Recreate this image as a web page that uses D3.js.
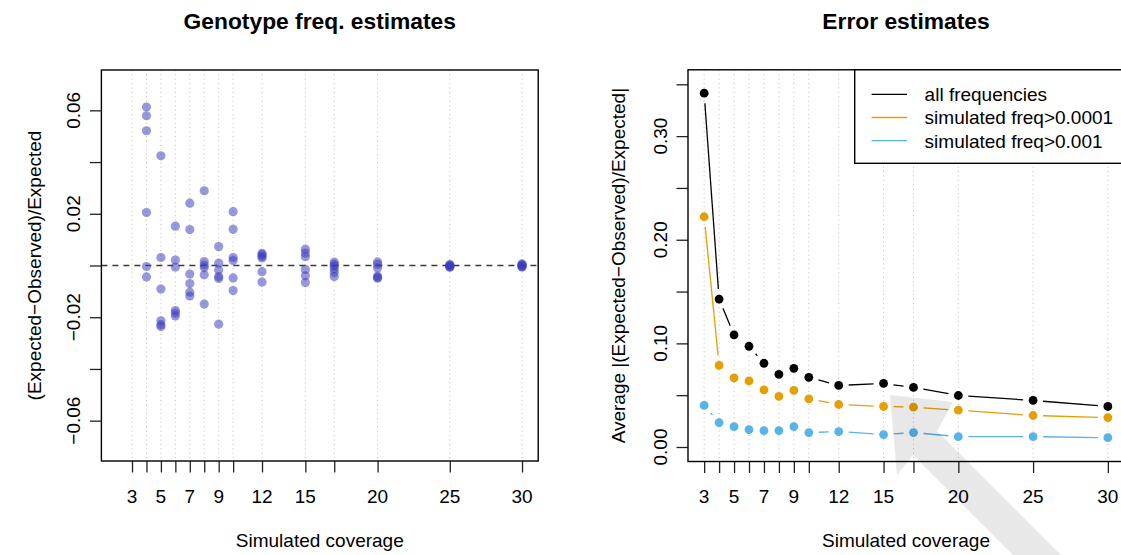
<!DOCTYPE html>
<html><head><meta charset="utf-8">
<script src="https://cdn.jsdelivr.net/npm/d3@7"></script>
<style>
html,body{margin:0;padding:0;background:#fff;}
svg{display:block;font-family:"Liberation Sans",Arial,Helvetica,sans-serif;}
</style></head>
<body>
<svg id="chart" width="1121" height="555"></svg>
<script>
// ---------- DATA ----------
const coverages = [3,4,5,6,7,8,9,10,12,15,17,20,25,30];
const xTickLabels = [3,5,7,9,12,15,20,25,30];

// Left panel: (Expected-Observed)/Expected per simulated coverage
const genoCoverage = [4,5,6,7,8,9,10,12,15,17,20,25,30];
const genoValues = [
  [0.0613,0.0579,0.0521,0.0205,-0.0004,-0.0044],          // 4
  [0.0424,0.0031,-0.0091,-0.0214,-0.0229,-0.0236],        // 5
  [0.0152,0.0021,-0.0006,-0.0174,-0.0184,-0.0195],        // 6
  [0.0241,0.0139,-0.0033,-0.0070,-0.0103,-0.0118],        // 7
  [0.0289,0.0015,0.0002,-0.0008,-0.0036,-0.0149],         // 8
  [0.0073,0.0009,-0.0017,-0.0043,-0.0050,-0.0227],        // 9
  [0.0208,0.0140,0.0031,0.0019,-0.0048,-0.0097],          // 10
  [0.0047,0.0042,0.0035,0.0029,-0.0024,-0.0064],          // 12
  [0.0063,0.0048,0.0034,-0.0015,-0.0040,-0.0066],         // 15
  [0.0013,0.0004,-0.0002,-0.0014,-0.0027,-0.0043],        // 17
  [0.0014,0.0004,-0.0010,-0.0041,-0.0046,-0.0049],        // 20
  [0.0004,0.0001,-0.0001,-0.0003,-0.0005,-0.0007],        // 25
  [0.0006,0.0003,0.0001,-0.0002,-0.0004,-0.0006]          // 30
];
const leftYTicks = [-0.06,-0.04,-0.02,0,0.02,0.04,0.06];
const leftYLabels = [-0.06,-0.02,0.02,0.06];

// Right panel: Average |(Expected-Observed)/Expected|
const errAll     = [0.3414,0.1427,0.1082,0.0972,0.0808,0.0701,0.0759,0.0672,0.0594,0.0613,0.0575,0.0497,0.0449,0.0391];
const errF0001   = [0.2222,0.0788,0.0666,0.0637,0.0552,0.0488,0.0546,0.0465,0.0410,0.0391,0.0384,0.0355,0.0304,0.0284];
const errF001    = [0.0401,0.0236,0.0197,0.0168,0.0158,0.0158,0.0197,0.0139,0.0149,0.0120,0.0139,0.0100,0.0100,0.0090];
const seriesNames = ["all frequencies","simulated freq>0.0001","simulated freq>0.001"];
const seriesColors = ["#000000","#E69F00","#56B4E9"];
const rightYTicks = [0,0.05,0.10,0.15,0.20,0.25,0.30,0.35];
const rightYLabels = [0,0.10,0.20,0.30];

// ---------- LAYOUT ----------
const svg = d3.select("#chart");
const FS = 19;
const minus = s => s.replace("-", "\u2212");

const L = {x0:101.4, x1:538.2, y0:70, y1:461, yt:60};
const R = {x0:688, x1:1124, y0:69.8, y1:461.5, yt:63};

const xL = d3.scaleLinear().domain([0.88,31.12]).range([L.x0,L.x1]);
const yL = d3.scaleLinear().domain([-0.0756,0.0756]).range([L.y1,L.y0]);
const xR = d3.scaleLinear().domain([1.92,31.08]).range([R.x0,R.x1]);
const yR = d3.scaleLinear().domain([-0.014,0.364]).range([R.y1,R.y0]);

function panelFrame(P, xs, ys, yTicks, yLabels, yFmt, title, ytitle) {
  const g = svg.append("g");
  g.selectAll(".grid").data(coverages).enter().append("line")
    .attr("x1", d=>xs(d)).attr("x2", d=>xs(d))
    .attr("y1", P.y0).attr("y2", P.y1)
    .attr("stroke","#bdbdbd").attr("stroke-width",1).attr("stroke-dasharray","1,3.4");
  const xa = g.append("g").attr("transform",`translate(0,${P.y1})`)
    .call(d3.axisBottom(xs).tickValues(coverages).tickSize(11.5).tickFormat(""));
  xa.select(".domain").remove();
  xa.selectAll("line").attr("stroke","#222").attr("stroke-width",1.3);
  g.selectAll(".xl").data(xTickLabels).enter().append("text")
    .attr("x", d=>xs(d)).attr("y", 503).attr("text-anchor","middle")
    .attr("font-size",FS).attr("fill","#000").text(d=>d);
  const ya = g.append("g").attr("transform",`translate(${P.x0},0)`)
    .call(d3.axisLeft(ys).tickValues(yTicks).tickSize(11.5).tickFormat(""));
  ya.select(".domain").remove();
  ya.selectAll("line").attr("stroke","#222").attr("stroke-width",1.3);
  g.selectAll(".yl").data(yLabels).enter().append("text")
    .attr("transform", d=>`translate(${P.x0-21},${ys(d)}) rotate(-90)`)
    .attr("text-anchor","middle").attr("font-size",FS).attr("fill","#000")
    .text(d=>minus(yFmt(d)));
  g.append("text").attr("x",(P.x0+P.x1)/2).attr("y",29).attr("text-anchor","middle")
    .attr("font-size",22.8).attr("font-weight","bold").text(title);
  g.append("text").attr("x",(P.x0+P.x1)/2).attr("y",547).attr("text-anchor","middle")
    .attr("font-size",FS).text("Simulated coverage");
  g.append("text").attr("transform",`translate(${P.x0-P.yt},${(P.y0+P.y1)/2}) rotate(-90)`)
    .attr("text-anchor","middle").attr("font-size",FS).text(ytitle);
  return g;
}

// ---------- LEFT PANEL ----------
panelFrame(L, xL, yL, leftYTicks, leftYLabels, d3.format(".2f"),
  "Genotype freq. estimates", "(Expected\u2212Observed)/Expected");

const gl = svg.append("g");
gl.append("line").attr("x1",L.x0).attr("x2",L.x1).attr("y1",yL(0)).attr("y2",yL(0))
  .attr("stroke","#3a3a3a").attr("stroke-width",1.6).attr("stroke-dasharray","6,5");
const pts = [];
genoCoverage.forEach((c,i)=>genoValues[i].forEach(v=>pts.push({c,v})));
gl.selectAll("circle").data(pts).enter().append("circle")
  .attr("cx",d=>xL(d.c)).attr("cy",d=>yL(d.v)).attr("r",4.6)
  .attr("fill","rgb(60,60,190)").attr("fill-opacity",0.53);
gl.append("rect").attr("x",L.x0).attr("y",L.y0).attr("width",L.x1-L.x0).attr("height",L.y1-L.y0)
  .attr("fill","none").attr("stroke","#000").attr("stroke-width",1.4);

// ---------- RIGHT PANEL ----------
panelFrame(R, xR, yR, rightYTicks, rightYLabels, d3.format(".2f"),
  "Error estimates", "Average |(Expected\u2212Observed)/Expected|");

const gr = svg.append("g");
const allSeries = [errAll, errF0001, errF001];
const GAP = 10;
allSeries.forEach((vals, si) => {
  const p = coverages.map((c,i)=>[xR(c), yR(vals[i])]);
  const segs = [];
  for (let i=0;i<p.length-1;i++){
    const [ax,ay]=p[i],[bx,by]=p[i+1];
    const dx=bx-ax, dy=by-ay, len=Math.hypot(dx,dy);
    if (len > 2*GAP) {
      const ux=dx/len, uy=dy/len;
      segs.push([ax+ux*GAP, ay+uy*GAP, bx-ux*GAP, by-uy*GAP]);
    }
  }
  gr.selectAll(null).data(segs).enter().append("line")
    .attr("x1",d=>d[0]).attr("y1",d=>d[1]).attr("x2",d=>d[2]).attr("y2",d=>d[3])
    .attr("stroke",seriesColors[si]).attr("stroke-width",1.3);
  gr.selectAll(null).data(vals).enter().append("circle")
    .attr("cx",(d,i)=>xR(coverages[i])).attr("cy",d=>yR(d)).attr("r",4.4)
    .attr("fill",seriesColors[si]);
});
gr.append("rect").attr("x",R.x0).attr("y",R.y0).attr("width",R.x1-R.x0).attr("height",R.y1-R.y0)
  .attr("fill","none").attr("stroke","#000").attr("stroke-width",1.4);

// legend
const lg = svg.append("g");
const LG = {x:854.7, y:R.y0, w:R.x1-854.7, h:93.5};
lg.append("rect").attr("x",LG.x).attr("y",LG.y).attr("width",LG.w).attr("height",LG.h)
  .attr("fill","#fff").attr("stroke","#000").attr("stroke-width",1.4);
seriesNames.forEach((n,i)=>{
  const cy = 94.3 + i*23.2;
  lg.append("line").attr("x1",871.6).attr("x2",907).attr("y1",cy).attr("y2",cy)
    .attr("stroke",seriesColors[i]).attr("stroke-width",1.3);
  lg.append("text").attr("x",924.6).attr("y",cy+6.8).attr("font-size",FS).text(n);
});

// light-grey arrow watermark overlay seen in the reference image
svg.append("path")
  .attr("d","M890,395 L897,475 L913,455 L1033,575 L1081,575 L937,431 L953,402 Z")
  .attr("fill","#000").attr("fill-opacity",0.09);
</script>
</body></html>
